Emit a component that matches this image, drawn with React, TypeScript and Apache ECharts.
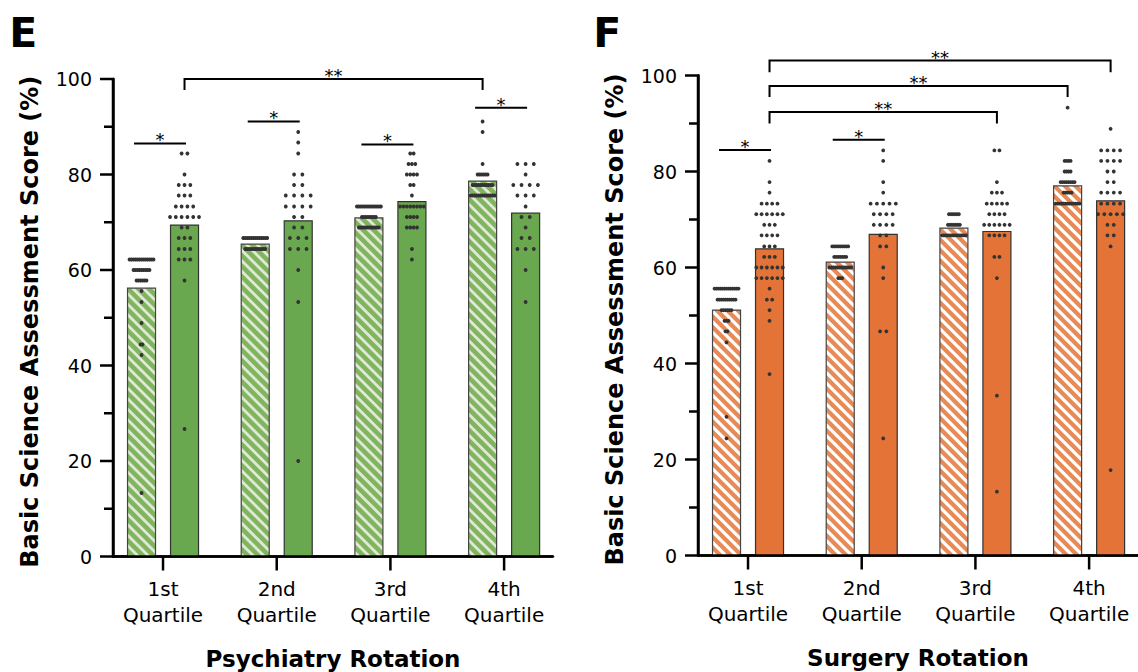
import React, { useEffect, useRef } from "react";
import * as echarts from "echarts";

// ---------- shared ----------
const categories = ["1st\nQuartile", "2nd\nQuartile", "3rd\nQuartile", "4th\nQuartile"];
const quartilePositions = [0, 1, 2, 3];
const yMajorTicks = [0, 20, 40, 60, 80, 100];
const yMinorTicks = [10, 30, 50, 70, 90];
const yAxisTitle = "Basic Science Assessment Score (%)";

// ---------- E : Psychiatry rotation ----------
const psychTitle = "Psychiatry Rotation";
const psychHatchedMeans = [56.2, 65.4, 70.9, 78.6];
const psychSolidMeans = [69.4, 70.3, 74.3, 71.9];
// [score, number of students with that score]
const psychHatchedDots1 = [[62.2, 13], [60, 9], [57.8, 6], [55.6, 1], [53.3, 1], [48.9, 1], [44.4, 2], [42.2, 1], [13.3, 1]];
const psychHatchedDots2 = [[66.7, 13], [64.4, 11]];
const psychHatchedDots3 = [[73.3, 13], [71.1, 8], [68.9, 11]];
const psychHatchedDots4 = [[91.1, 1], [88.9, 1], [82.2, 1], [80, 6], [77.8, 11], [75.6, 13]];
const psychSolidDots1 = [[84.4, 2], [80, 1], [77.8, 3], [75.6, 3], [73.3, 4], [71.1, 6], [68.9, 2], [66.7, 3], [64.4, 3], [62.2, 3], [57.8, 1], [26.7, 1]];
const psychSolidDots2 = [[88.9, 1], [86.7, 1], [84.4, 1], [80, 2], [77.8, 2], [75.6, 4], [73.3, 4], [71.1, 2], [68.9, 2], [66.7, 3], [64.4, 3], [60, 1], [53.3, 1], [20, 1]];
const psychSolidDots3 = [[84.4, 2], [82.2, 3], [80, 4], [77.8, 2], [75.6, 1], [73.3, 8], [71.1, 4], [68.9, 4], [64.4, 1], [62.2, 1]];
const psychSolidDots4 = [[82.2, 3], [80, 1], [77.8, 4], [75.6, 3], [73.3, 1], [71.1, 2], [68.9, 1], [66.7, 2], [64.4, 3], [60, 1], [53.3, 1]];
// [quartile A, side A (-1 hatched, 1 solid), quartile B, side B, bracket level (score), leg drop (score)]
const psychComparisons = [
  [0, -1, 0, 1, 86.5, 0],
  [1, -1, 1, 1, 91.1, 0],
  [2, -1, 2, 1, 86.3, 0],
  [3, -1, 3, 1, 94.0, 0],
  [0, 1, 3, -1, 100.0, 2.3],
];
const psychComparisonLabels = ["*", "*", "*", "*", "**"];

// ---------- F : Surgery rotation ----------
const surgTitle = "Surgery Rotation";
const surgHatchedMeans = [51.1, 61.1, 68.2, 77.0];
const surgSolidMeans = [63.9, 66.9, 67.5, 73.9];
const surgHatchedDots1 = [[55.6, 13], [53.3, 10], [51.1, 6], [48.9, 3], [46.7, 2], [44.4, 1], [28.9, 1], [24.4, 1]];
const surgHatchedDots2 = [[64.4, 9], [62.2, 7], [60, 12], [57.8, 3]];
const surgHatchedDots3 = [[71.1, 6], [68.9, 7], [66.7, 13]];
const surgHatchedDots4 = [[93.3, 1], [82.2, 4], [80, 4], [77.8, 8], [75.6, 5], [73.3, 13]];
const surgSolidDots1 = [[82.2, 1], [77.8, 1], [75.6, 1], [73.3, 4], [71.1, 6], [68.9, 3], [66.7, 4], [64.4, 3], [62.2, 3], [60, 6], [57.8, 6], [55.6, 1], [53.3, 2], [51.1, 1], [48.9, 1], [37.8, 1]];
const surgSolidDots2 = [[84.4, 1], [82.2, 1], [77.8, 1], [75.6, 1], [73.3, 5], [71.1, 4], [68.9, 4], [66.7, 2], [64.4, 2], [60, 1], [57.8, 1], [46.7, 2], [24.4, 1]];
const surgSolidDots3 = [[84.4, 2], [77.8, 1], [75.6, 3], [73.3, 5], [71.1, 4], [68.9, 6], [66.7, 4], [62.2, 2], [57.8, 1], [33.3, 1], [13.3, 1]];
const surgSolidDots4 = [[88.9, 1], [84.4, 4], [82.2, 4], [80, 2], [77.8, 2], [75.6, 4], [73.3, 4], [71.1, 5], [68.9, 2], [66.7, 2], [64.4, 1], [17.8, 1]];
const surgComparisons = [
  [0, -1, 0, 1, 84.5, 0],
  [1, -1, 1, 1, 86.6, 0],
  [0, 1, 2, 1, 92.4, 2.4],
  [0, 1, 3, -1, 97.8, 2.3],
  [0, 1, 3, 1, 103.1, 2.4],
];
const surgComparisonLabels = ["*", "*", "**", "**", "**"];

// ---------- styling constants ----------
const FONT = "DejaVu Sans";
const X_MIN = -0.44;
const X_MAX = 3.43;
const BAR_HALF = 14;
const BAR_OFFSET = 21.5;
const DOT_R = 1.9;
const STRIPE_PERIOD = 10.5;
const AXIS_W = 2.5;
const MAJOR_LEN = 13;
const MINOR_LEN = 9;
const X_TICK_LEN = 14;

type Pt = [number, number];

function clipPoly(pts: Pt[], f: (p: Pt) => number): Pt[] {
  const out: Pt[] = [];
  for (let i = 0; i < pts.length; i++) {
    const a = pts[i];
    const b = pts[(i + 1) % pts.length];
    const fa = f(a);
    const fb = f(b);
    if (fa >= 0) out.push(a);
    if ((fa >= 0) !== (fb >= 0)) {
      const t = fa / (fa - fb);
      out.push([a[0] + t * (b[0] - a[0]), a[1] + t * (b[1] - a[1])]);
    }
  }
  return out;
}

function swarmData(rowsPerQuartile: number[][][], side: number, spacing: number[]) {
  const out: number[][] = [];
  rowsPerQuartile.forEach((rows, q) => {
    rows.forEach(([v, n]) => {
      for (let i = 0; i < n; i++) {
        out.push([quartilePositions[q], v, side, (i - (n - 1) / 2) * spacing[q]]);
      }
    });
  });
  return out;
}

interface Panel {
  grid: any;
  title: string;
  hatchedMeans: number[];
  solidMeans: number[];
  hatchedDots: number[][][];
  solidDots: number[][][];
  hatchedSpacing: number[];
  solidSpacing: number[];
  comparisons: number[][];
  labels: string[];
  solid: string;
  hatchedBase: string;
  stripe: string;
  stripeW: number;
}

const panels: Panel[] = [
  {
    grid: { left: 113, top: 79, width: 440, height: 477.5 },
    title: psychTitle,
    hatchedMeans: psychHatchedMeans,
    solidMeans: psychSolidMeans,
    hatchedDots: [psychHatchedDots1, psychHatchedDots2, psychHatchedDots3, psychHatchedDots4],
    solidDots: [psychSolidDots1, psychSolidDots2, psychSolidDots3, psychSolidDots4],
    hatchedSpacing: [2, 2, 2, 2],
    solidSpacing: [5.8, 8.3, 3.4, 8.2],
    comparisons: psychComparisons,
    labels: psychComparisonLabels,
    solid: "#6aa84f",
    hatchedBase: "#80b45e",
    stripe: "#dfe9d5",
    stripeW: 4,
  },
  {
    grid: { left: 698, top: 75.5, width: 440, height: 480 },
    title: surgTitle,
    hatchedMeans: surgHatchedMeans,
    solidMeans: surgSolidMeans,
    hatchedDots: [surgHatchedDots1, surgHatchedDots2, surgHatchedDots3, surgHatchedDots4],
    solidDots: [surgSolidDots1, surgSolidDots2, surgSolidDots3, surgSolidDots4],
    hatchedSpacing: [2, 2, 2, 2],
    solidSpacing: [5.3, 6.3, 5.1, 6.3],
    comparisons: surgComparisons,
    labels: surgComparisonLabels,
    solid: "#e37336",
    hatchedBase: "#e88a55",
    stripe: "#ffffff",
    stripeW: 4.5,
  },
];

// axis + tick "comb" outlines, built through the scales (api.coord)
function axisComb(api: any) {
  const yTicks = [
    ...yMajorTicks.map((v) => [v, MAJOR_LEN]),
    ...yMinorTicks.map((v) => [v, MINOR_LEN]),
  ].sort((a, b) => b[0] - a[0]);
  const yPts: number[][] = [];
  const top = api.coord([X_MIN, 100]);
  yPts.push([top[0], top[1]]);
  yTicks.forEach(([v, len]) => {
    const c = api.coord([X_MIN, v]);
    yPts.push([c[0], c[1]], [c[0] - len, c[1]], [c[0], c[1]]);
  });
  const xPts: number[][] = [];
  const left = api.coord([X_MIN, 0]);
  const right = api.coord([X_MAX, 0]);
  xPts.push([left[0], left[1]]);
  quartilePositions.forEach((q) => {
    const c = api.coord([q, 0]);
    xPts.push([c[0], c[1]], [c[0], c[1] + X_TICK_LEN], [c[0], c[1]]);
  });
  xPts.push([right[0], right[1]]);
  return [
    { type: "polyline", z2: 50, shape: { points: yPts }, style: { stroke: "#000", lineWidth: AXIS_W, fill: "none", lineJoin: "miter" } },
    { type: "polyline", z2: 50, shape: { points: xPts }, style: { stroke: "#000", lineWidth: AXIS_W, fill: "none", lineJoin: "miter" } },
  ];
}

function buildOption() {
  const grids: any[] = [];
  const xAxes: any[] = [];
  const yAxes: any[] = [];
  const series: any[] = [];

  panels.forEach((p, gi) => {
    grids.push({ ...p.grid, containLabel: false, outerBoundsMode: "none" });
    xAxes.push({
      type: "value",
      gridIndex: gi,
      min: X_MIN,
      max: X_MAX,
      splitLine: { show: false },
      axisLine: { show: true, onZero: false, lineStyle: { color: "#000", width: AXIS_W } },
      axisTick: { show: false },
      axisLabel: {
        customValues: quartilePositions,
        formatter: (v: number) => categories[Math.round(v)] ?? "",
        margin: 19,
        fontSize: 20,
        lineHeight: 26,
        fontFamily: FONT,
        color: "#000",
      },
      name: p.title,
      nameLocation: "middle",
      nameGap: 91,
      nameMoveOverlap: false,
      nameTextStyle: { fontSize: 23, fontWeight: "bold", fontFamily: FONT, color: "#000" },
    });
    yAxes.push({
      type: "value",
      gridIndex: gi,
      min: 0,
      max: 100,
      interval: 20,
      splitLine: { show: false },
      axisLine: { show: true, onZero: false, lineStyle: { color: "#000", width: AXIS_W } },
      axisTick: { show: false },
      minorTick: { show: false },
      axisLabel: { margin: 21, fontSize: 19, fontFamily: FONT, color: "#000" },
      name: yAxisTitle,
      nameLocation: "middle",
      nameGap: 71,
      nameMoveOverlap: false,
      nameTextStyle: { fontSize: 24, fontWeight: "bold", fontFamily: FONT, color: "#000", padding: [0, 8, 0, 0] },
    });

    const barData: number[][] = [];
    quartilePositions.forEach((q, i) => {
      barData.push([q, p.hatchedMeans[i], -1]);
      barData.push([q, p.solidMeans[i], 1]);
    });

    series.push({
      type: "custom",
      xAxisIndex: gi,
      yAxisIndex: gi,
      z: 2,
      clip: false,
      data: barData,
      renderItem: (params: any, api: any) => {
        const q = api.value(0);
        const mean = api.value(1);
        const side = api.value(2);
        const top = api.coord([q, mean]);
        const base = api.coord([q, 0]);
        const cx = top[0] + side * BAR_OFFSET;
        const x0 = cx - BAR_HALF;
        const x1 = cx + BAR_HALF;
        const y0 = top[1];
        const y1 = base[1];
        const shape = { x: x0, y: y0, width: x1 - x0, height: y1 - y0 };
        const children: any[] = [];
        if (side < 0) {
          children.push({ type: "rect", shape, style: { fill: p.hatchedBase } });
          const rectPts: Pt[] = [[x0, y0], [x1, y0], [x1, y1], [x0, y1]];
          const kStart = Math.floor((x0 - y1) / STRIPE_PERIOD) - 1;
          const kEnd = Math.ceil((x1 - y0) / STRIPE_PERIOD) + 1;
          for (let k = kStart; k <= kEnd; k++) {
            const c1 = k * STRIPE_PERIOD;
            const c2 = c1 + p.stripeW;
            let poly = clipPoly(rectPts, (pt) => pt[0] - pt[1] - c1);
            if (poly.length < 3) continue;
            poly = clipPoly(poly, (pt) => c2 - (pt[0] - pt[1]));
            if (poly.length < 3) continue;
            children.push({ type: "polygon", shape: { points: poly }, style: { fill: p.stripe } });
          }
          children.push({ type: "rect", shape, style: { fill: "none", stroke: "#444", lineWidth: 1.2 } });
        } else {
          children.push({ type: "rect", shape, style: { fill: p.solid, stroke: "#333", lineWidth: 1.2 } });
        }
        if (params.dataIndex === 0) {
          children.push(...axisComb(api));
        }
        return { type: "group", children };
      },
    });

    const dots = [
      ...swarmData(p.hatchedDots, -1, p.hatchedSpacing),
      ...swarmData(p.solidDots, 1, p.solidSpacing),
    ];
    series.push({
      type: "custom",
      xAxisIndex: gi,
      yAxisIndex: gi,
      z: 3,
      clip: false,
      data: dots,
      renderItem: (_params: any, api: any) => {
        const c = api.coord([api.value(0), api.value(1)]);
        return {
          type: "circle",
          shape: { cx: c[0] + api.value(2) * BAR_OFFSET + api.value(3), cy: c[1], r: DOT_R },
          style: { fill: "#333" },
        };
      },
    });

    series.push({
      type: "custom",
      xAxisIndex: gi,
      yAxisIndex: gi,
      z: 4,
      clip: false,
      data: p.comparisons,
      renderItem: (params: any, api: any) => {
        const qa = api.value(0);
        const sa = api.value(1);
        const qb = api.value(2);
        const sb = api.value(3);
        const lvl = api.value(4);
        const drop = api.value(5);
        const pA = api.coord([qa, lvl]);
        const pB = api.coord([qb, lvl]);
        const yTop = pA[1];
        const yLeg = api.coord([qa, lvl - drop])[1];
        let xA = pA[0] + sa * BAR_OFFSET;
        let xB = pB[0] + sb * BAR_OFFSET;
        if (!drop) {
          xA -= 7.5;
          xB += 1.5;
        }
        const pts = drop
          ? [[xA, yLeg], [xA, yTop], [xB, yTop], [xB, yLeg]]
          : [[xA, yTop], [xB, yTop]];
        return {
          type: "group",
          children: [
            { type: "polyline", shape: { points: pts }, style: { stroke: "#000", lineWidth: 2, fill: "none" } },
            {
              type: "text",
              x: (xA + xB) / 2,
              y: yTop - 3.5,
              style: {
                text: p.labels[params.dataIndex],
                fontSize: 18,
                fontFamily: FONT,
                fill: "#000",
                align: "center",
                verticalAlign: "middle",
              },
            },
          ],
        };
      },
    });
  });

  return {
    animation: false,
    backgroundColor: "#ffffff",
    grid: grids,
    xAxis: xAxes,
    yAxis: yAxes,
    series,
    graphic: [
      { type: "text", x: 9.3, y: 12.2, z: 100, style: { text: "E", fontSize: 41, fontWeight: "bold", fontFamily: FONT, fill: "#000", align: "left", verticalAlign: "top" } },
      { type: "text", x: 593.3, y: 12.2, z: 100, style: { text: "F", fontSize: 41, fontWeight: "bold", fontFamily: FONT, fill: "#000", align: "left", verticalAlign: "top" } },
    ],
  };
}

export default function App() {
  const ref = useRef<HTMLDivElement>(null);
  useEffect(() => {
    if (!ref.current) return;
    const chart = echarts.init(ref.current, undefined, { renderer: "svg" });
    chart.setOption(buildOption() as any);
    return () => chart.dispose();
  }, []);
  return (
    <div
      ref={ref}
      style={{ position: "absolute", left: 0, top: 0, width: 1138, height: 672, background: "#fff" }}
    />
  );
}
